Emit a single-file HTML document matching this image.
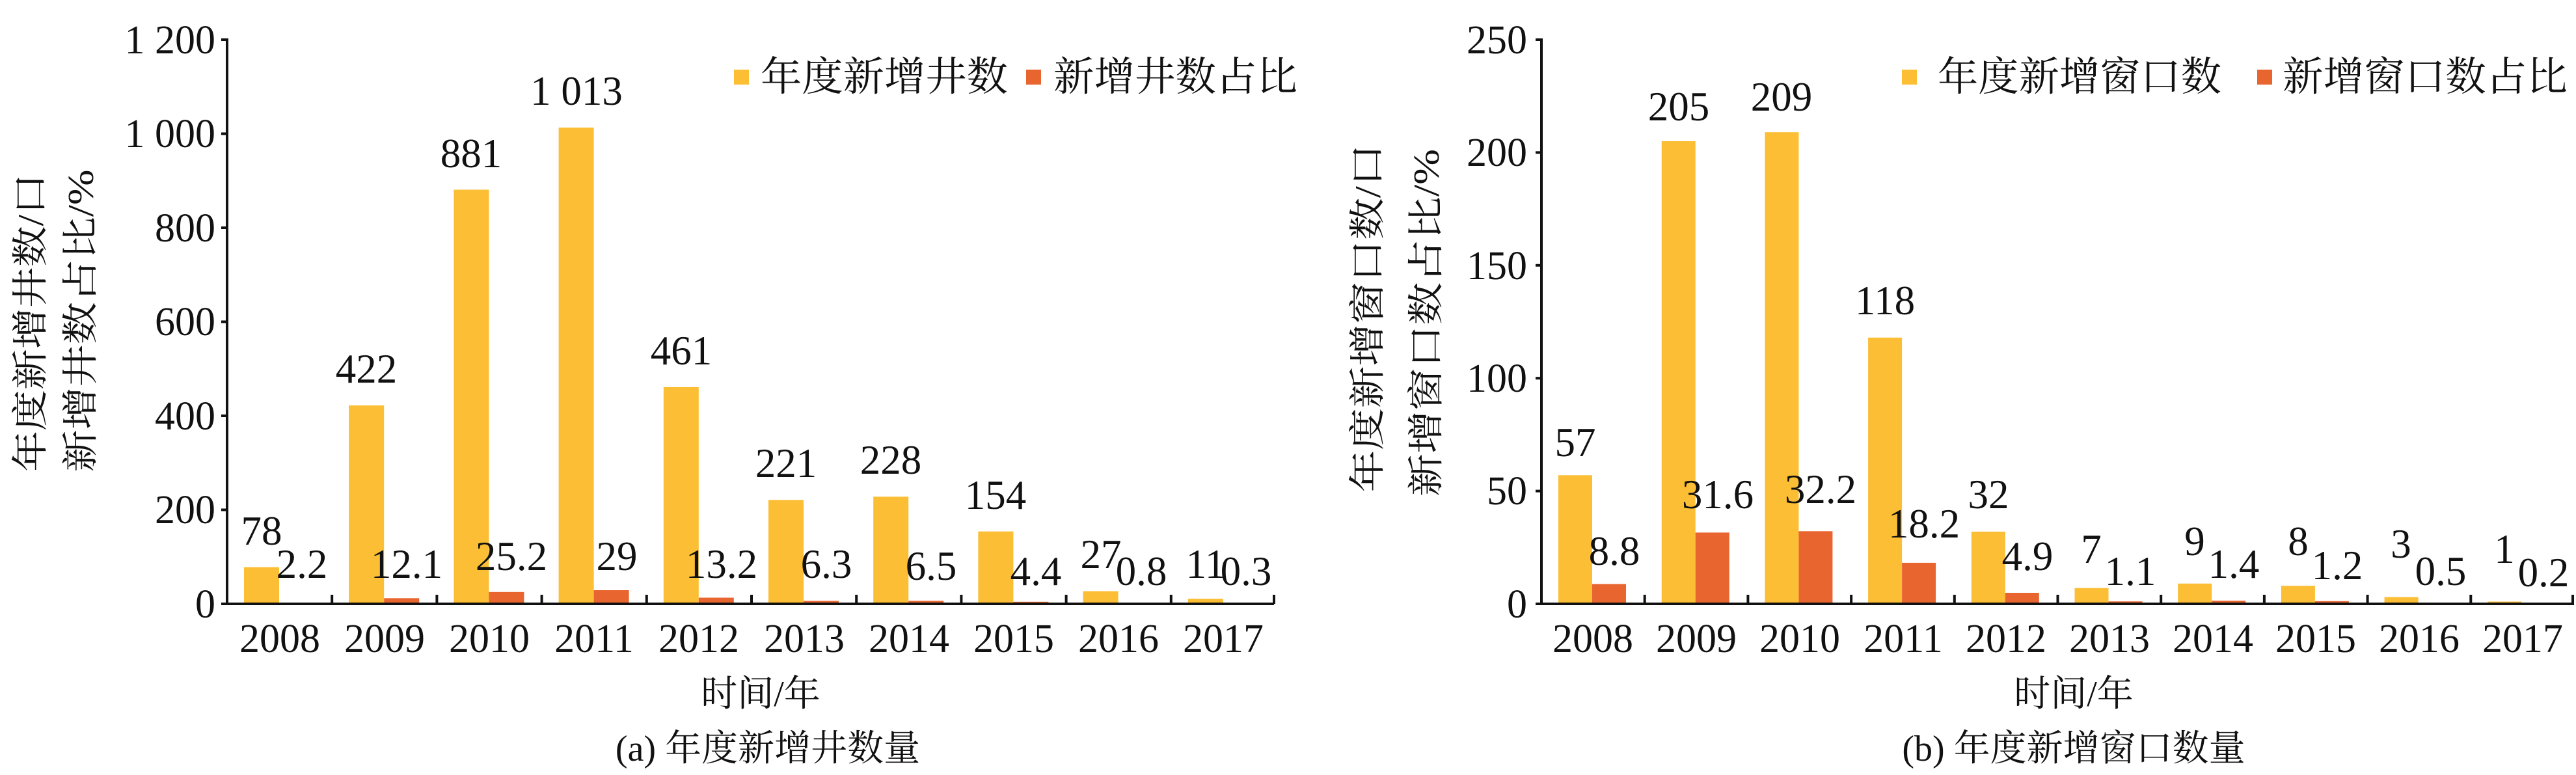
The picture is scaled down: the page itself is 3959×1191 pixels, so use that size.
<!DOCTYPE html>
<html><head><meta charset="utf-8"><style>
html,body{margin:0;padding:0;background:#fff;}
svg{display:block;}
text{font-family:"Liberation Serif","Noto Serif CJK SC",serif;fill:#111;}
.t{font-size:62px;}
.d{font-size:63px;text-anchor:middle;}
.c{font-family:"Liberation Serif","Noto Serif CJK SC",serif;font-size:56px;text-anchor:middle;}
</style></head><body>
<svg width="3959" height="1191" viewBox="0 0 3959 1191" xmlns="http://www.w3.org/2000/svg">
<g fill="#FBBE34">
<rect x="375" y="871.6" width="54" height="56.4"/>
<rect x="536.2" y="623.1" width="54" height="304.9"/>
<rect x="697.4" y="291.5" width="54" height="636.5"/>
<rect x="858.6" y="196.1" width="54" height="731.9"/>
<rect x="1019.8" y="594.9" width="54" height="333.1"/>
<rect x="1181" y="768.3" width="54" height="159.7"/>
<rect x="1342.2" y="763.3" width="54" height="164.7"/>
<rect x="1503.4" y="816.7" width="54" height="111.3"/>
<rect x="1664.6" y="908.5" width="54" height="19.5"/>
<rect x="1825.8" y="920.1" width="54" height="7.9"/>
<rect x="2395" y="730.3" width="52" height="197.7"/>
<rect x="2553.7" y="217" width="52" height="711"/>
<rect x="2712.4" y="203.2" width="52" height="724.8"/>
<rect x="2871.1" y="518.8" width="52" height="409.2"/>
<rect x="3029.8" y="817" width="52" height="111"/>
<rect x="3188.5" y="903.7" width="52" height="24.3"/>
<rect x="3347.2" y="896.8" width="52" height="31.2"/>
<rect x="3505.9" y="900.3" width="52" height="27.7"/>
<rect x="3664.6" y="917.6" width="52" height="10.4"/>
<rect x="3823.3" y="924.5" width="52" height="3.5"/>
<rect x="1128" y="107" width="23" height="23"/>
<rect x="2923" y="107" width="23" height="23"/>
</g>
<g fill="#E96530">
<rect x="429" y="926.4" width="54" height="1.6"/>
<rect x="590.2" y="919.3" width="54" height="8.7"/>
<rect x="751.4" y="909.8" width="54" height="18.2"/>
<rect x="912.6" y="907" width="54" height="21"/>
<rect x="1073.8" y="918.5" width="54" height="9.5"/>
<rect x="1235" y="923.4" width="54" height="4.6"/>
<rect x="1396.2" y="923.3" width="54" height="4.7"/>
<rect x="1557.4" y="924.8" width="54" height="3.2"/>
<rect x="1718.6" y="927.4" width="54" height="0.6"/>
<rect x="2447" y="897.5" width="52" height="30.5"/>
<rect x="2605.7" y="818.4" width="52" height="109.6"/>
<rect x="2764.4" y="816.3" width="52" height="111.7"/>
<rect x="2923.1" y="864.9" width="52" height="63.1"/>
<rect x="3081.8" y="911" width="52" height="17"/>
<rect x="3240.5" y="924.2" width="52" height="3.8"/>
<rect x="3399.2" y="923.1" width="52" height="4.9"/>
<rect x="3557.9" y="923.8" width="52" height="4.2"/>
<rect x="3716.6" y="926.3" width="52" height="1.7"/>
<rect x="1577" y="107" width="23" height="23"/>
<rect x="3469" y="107" width="23" height="23"/>
</g>
<g stroke="#111" stroke-width="4" fill="none">
<path d="M349 59 V928 H1958"/>
<path d="M340 61H349M340 205.5H349M340 350H349M340 494.5H349M340 639H349M340 783.5H349M340 928H349"/>
<path d="M510.2 928V914M671.4 928V914M832.6 928V914M993.8 928V914M1155 928V914M1316.2 928V914M1477.4 928V914M1638.6 928V914M1799.8 928V914M1958 928V914"/>
<path d="M2369 59 V928 H3956"/>
<path d="M2360 61H2369M2360 234.4H2369M2360 407.8H2369M2360 581.2H2369M2360 754.6H2369M2360 928H2369"/>
<path d="M2527.7 928V914M2686.4 928V914M2845.1 928V914M3003.8 928V914M3162.5 928V914M3321.2 928V914M3479.9 928V914M3638.6 928V914M3797.3 928V914M3954 928V914"/>
</g>
<g class="t" text-anchor="end">
<text x="331" y="82">1 200</text><text x="331" y="226">1 000</text><text x="331" y="371">800</text><text x="331" y="515">600</text><text x="331" y="660">400</text><text x="331" y="804">200</text><text x="331" y="949">0</text>
<text x="2347" y="82">250</text><text x="2347" y="255">200</text><text x="2347" y="429">150</text><text x="2347" y="602">100</text><text x="2347" y="775">50</text><text x="2347" y="949">0</text>
</g>
<g class="t" text-anchor="middle">
<text x="430" y="1002">2008</text><text x="591" y="1002">2009</text><text x="752" y="1002">2010</text><text x="913" y="1002">2011</text><text x="1074" y="1002">2012</text><text x="1236" y="1002">2013</text><text x="1397" y="1002">2014</text><text x="1558" y="1002">2015</text><text x="1719" y="1002">2016</text><text x="1880" y="1002">2017</text>
<text x="2448" y="1002">2008</text><text x="2607" y="1002">2009</text><text x="2766" y="1002">2010</text><text x="2925" y="1002">2011</text><text x="3083" y="1002">2012</text><text x="3242" y="1002">2013</text><text x="3401" y="1002">2014</text><text x="3559" y="1002">2015</text><text x="3718" y="1002">2016</text><text x="3877" y="1002">2017</text>
</g>
<g class="d">
<text x="402" y="837">78</text><text x="563" y="588">422</text><text x="724" y="257">881</text><text x="886" y="161">1 013</text><text x="1047" y="560">461</text><text x="1208" y="733">221</text><text x="1369" y="728">228</text><text x="1530" y="782">154</text><text x="1692" y="873">27</text><text x="1853" y="888">11</text>
<text x="464" y="888">2.2</text><text x="625" y="888">12.1</text><text x="786" y="876">25.2</text><text x="948" y="876">29</text><text x="1109" y="888">13.2</text><text x="1270" y="888">6.3</text><text x="1431" y="891">6.5</text><text x="1592" y="899">4.4</text><text x="1754" y="899">0.8</text><text x="1915" y="899">0.3</text>
<text x="2421" y="701">57</text><text x="2580" y="185">205</text><text x="2738" y="170">209</text><text x="2897" y="483">118</text><text x="3056" y="781">32</text><text x="3214" y="865">7</text><text x="3373" y="853">9</text><text x="3532" y="853">8</text><text x="3690" y="857">3</text><text x="3849" y="865">1</text>
<text x="2481" y="868">8.8</text><text x="2640" y="781">31.6</text><text x="2798" y="773">32.2</text><text x="2957" y="826">18.2</text><text x="3116" y="876">4.9</text><text x="3274" y="899">1.1</text><text x="3433" y="888">1.4</text><text x="3592" y="890">1.2</text><text x="3751" y="899">0.5</text><text x="3909" y="901">0.2</text>
</g>
<g font-size="62">
<text x="1169" y="139" textLength="380" lengthAdjust="spacingAndGlyphs">年度新增井数</text>
<text x="1619" y="139" textLength="375" lengthAdjust="spacingAndGlyphs">新增井数占比</text>
<text x="2978" y="139" textLength="436" lengthAdjust="spacingAndGlyphs">年度新增窗口数</text>
<text x="3508" y="139" textLength="438" lengthAdjust="spacingAndGlyphs">新增窗口数占比</text>
</g>
<g class="c">
<text x="1169" y="1085">时间/年</text>
<text x="1180" y="1169">(a) 年度新增井数量</text>
<text x="3187" y="1085">时间/年</text>
<text x="3187" y="1169">(b) 年度新增窗口数量</text>
<text transform="translate(66,496) rotate(-90)" textLength="458" lengthAdjust="spacingAndGlyphs">年度新增井数/口</text>
<text transform="translate(143,493) rotate(-90)" textLength="465" lengthAdjust="spacingAndGlyphs">新增井数占比/%</text>
<text transform="translate(2121,489) rotate(-90)" textLength="535" lengthAdjust="spacingAndGlyphs">年度新增窗口数/口</text>
<text transform="translate(2211,496) rotate(-90)" textLength="534" lengthAdjust="spacingAndGlyphs">新增窗口数占比/%</text>
</g>
</svg>
</body></html>
